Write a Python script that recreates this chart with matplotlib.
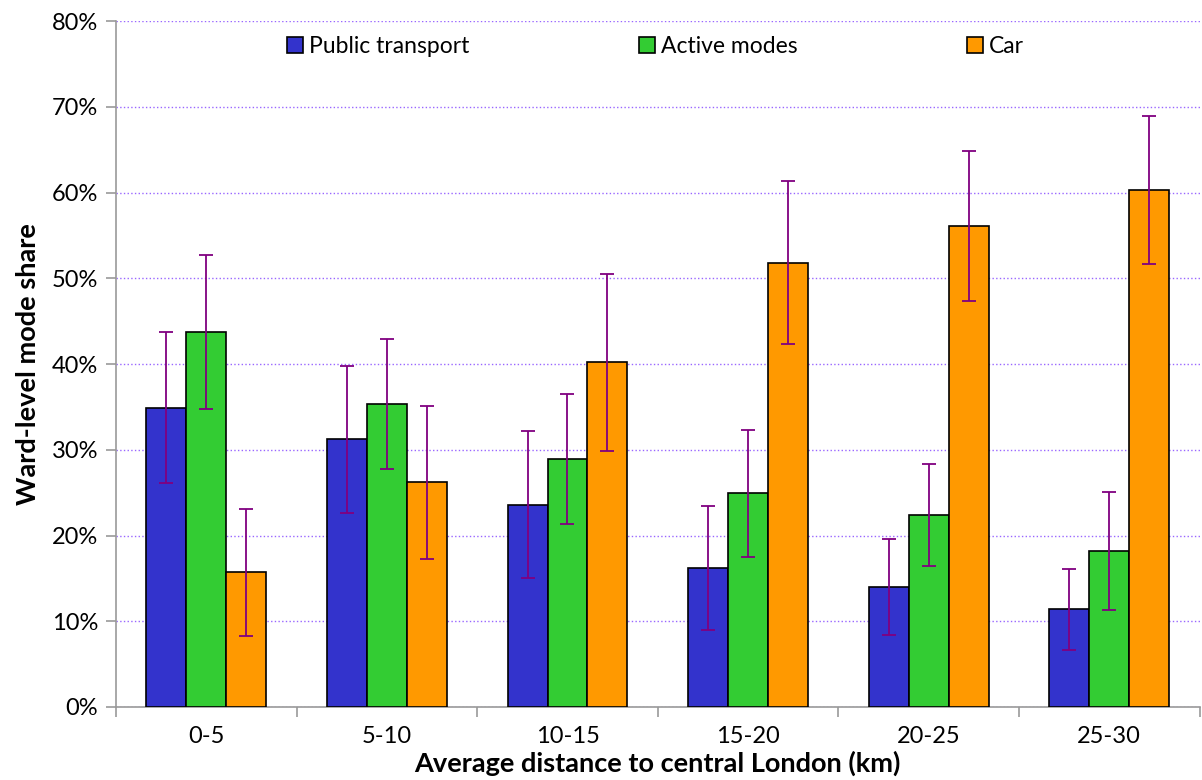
import matplotlib.pyplot as plt
import numpy as np
from matplotlib.ticker import PercentFormatter

plt.rcParams['font.family'] = ['Lato', 'DejaVu Sans']

# data (%)
categories = ['0-5', '5-10', '10-15', '15-20', '20-25', '25-30']
series = ['Public transport', 'Active modes', 'Car']
public = [34.9, 31.2, 23.6, 16.2, 14.0, 11.4]
active = [43.7, 35.3, 28.9, 24.9, 22.4, 18.2]
car = [15.7, 26.2, 40.2, 51.8, 56.1, 60.3]
public_err = [8.8, 8.6, 8.6, 7.2, 5.6, 4.7]
active_err = [9.0, 7.6, 7.6, 7.4, 5.9, 6.9]
car_err = [7.4, 8.9, 10.3, 9.5, 8.7, 8.6]

colors = ['#3333CC', '#33CC33', '#FF9900']

fig = plt.figure(figsize=(12.02, 7.8), dpi=100)
ax = fig.add_axes([0.0965, 0.0936, 0.9015, 0.8794])

x = np.arange(len(categories))
w = 0.221
for i, (vals, errs) in enumerate(zip([public, active, car], [public_err, active_err, car_err])):
    ax.bar(x + (i - 1) * w, vals, w, color=colors[i], edgecolor='black', linewidth=1.2,
           label=series[i], zorder=3)
    ax.errorbar(x + (i - 1) * w, vals, yerr=errs, fmt='none', ecolor='#800080',
                elinewidth=1.3, capsize=5, capthick=1.3, zorder=4)

ax.set_xlim(-0.5, len(categories) - 0.5)
ax.set_ylim(0, 80)
ax.set_yticks(np.arange(0, 81, 10))
ax.yaxis.set_major_formatter(PercentFormatter(decimals=0))
ax.grid(axis='y', color='#9966FF', linestyle=':', linewidth=1.0, zorder=0)

# category labels at centres, tick marks at group boundaries
ax.set_xticks(x)
ax.set_xticklabels(categories)
ax.set_xticks(np.arange(-0.5, len(categories), 1), minor=True)
ax.tick_params(axis='x', which='major', length=0, pad=14, labelsize=17)
ax.tick_params(axis='x', which='minor', length=7, color='#999999', width=1.2)
ax.tick_params(axis='y', length=7, color='#999999', width=1.2, labelsize=17, pad=6)

for s in ['top', 'right']:
    ax.spines[s].set_visible(False)
for s in ['left', 'bottom']:
    ax.spines[s].set_color('#999999')
    ax.spines[s].set_linewidth(1.2)

ax.set_xlabel('Average distance to central London (km)', fontsize=19.5, fontweight='bold', labelpad=2)
ax.set_ylabel('Ward-level mode share', fontsize=19.5, fontweight='bold', labelpad=8)

ax.legend(loc='upper center', bbox_to_anchor=(0.498, 1.008), ncol=3, frameon=False,
          fontsize=16.5, handlelength=0.7, handleheight=0.7, handletextpad=0.25,
          columnspacing=7.4)

fig.savefig('out.png', dpi=100)
